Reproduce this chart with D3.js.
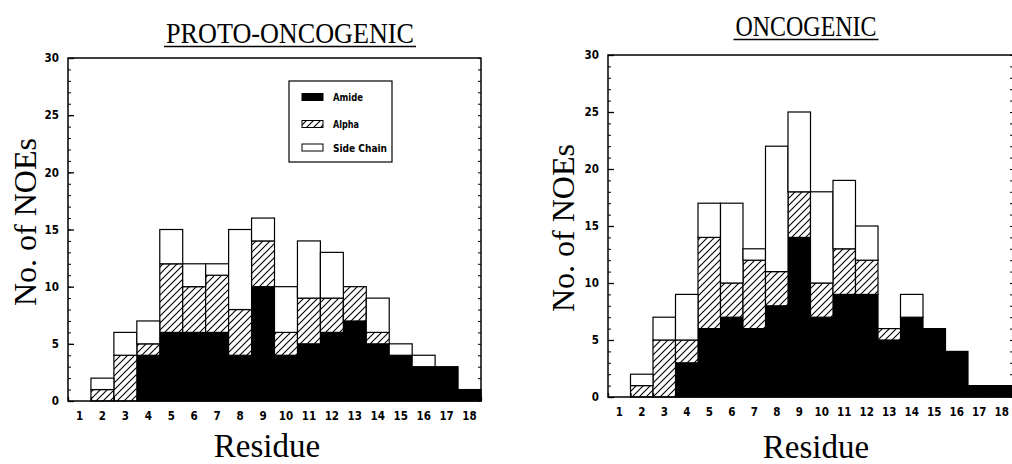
<!DOCTYPE html>
<html>
<head>
<meta charset="utf-8">
<script src="https://cdn.jsdelivr.net/npm/d3@7"></script>
<style>
  html, body { margin: 0; padding: 0; background: #fff; }
  svg { display: block; }
  .tick text { font-family: "DejaVu Sans Condensed", "DejaVu Sans", sans-serif; font-weight: bold; font-size: 11.5px; fill: #000; }
  .domain { display: none; }
</style>
</head>
<body>
<svg id="chart" width="1012" height="464"></svg>
<script>
// ---------- data ----------
const residues = d3.range(1, 19).map(String);
const seriesNames = ["Amide", "Alpha", "Side Chain"];
const yTickValues = [0, 5, 10, 15, 20, 25, 30];

const protoAmide = [0, 0, 0, 4, 6, 6, 6, 4, 10, 4, 5, 6, 7, 5, 4, 3, 3, 1];
const protoAlpha = [0, 1, 4, 1, 6, 4, 5, 4, 4, 2, 4, 3, 3, 1, 0, 0, 0, 0];
const protoSide  = [0, 1, 2, 2, 3, 2, 1, 7, 2, 4, 5, 4, 0, 3, 1, 1, 0, 0];

const oncoAmide = [0, 0, 0, 3, 6, 7, 6, 8, 14, 7, 9, 9, 5, 7, 6, 4, 1, 1];
const oncoAlpha = [0, 1, 5, 2, 8, 3, 6, 3, 4, 3, 4, 3, 1, 0, 0, 0, 0, 0];
const oncoSide  = [0, 1, 2, 4, 3, 7, 1, 11, 7, 8, 6, 3, 0, 2, 0, 0, 0, 0];

// ---------- drawing ----------
const svg = d3.select("#chart");
const defs = svg.append("defs");
const pat = defs.append("pattern")
  .attr("id", "hatch").attr("patternUnits", "userSpaceOnUse")
  .attr("width", 7).attr("height", 7);
pat.append("rect").attr("width", 7).attr("height", 7).attr("fill", "#fff");
pat.append("path")
  .attr("d", "M-1,1 l2,-2 M0,7 l7,-7 M6,8 l2,-2")
  .attr("stroke", "#000").attr("stroke-width", 1.1);

const fills = ["#000", "url(#hatch)", "#fff"];
const serif = "'Liberation Serif', 'DejaVu Serif', serif";

function panel(cfg) {
  const { amide, alpha, side, x0, x1, yBottom, yTop } = cfg;
  const rows = residues.map((r, i) => ({ res: r, "Amide": amide[i], "Alpha": alpha[i], "Side Chain": side[i] }));
  const stacked = d3.stack().keys(seriesNames)(rows);

  const x = d3.scaleBand().domain(residues).range([x0, x1]).paddingInner(0).paddingOuter(0);
  const xl = d3.scaleLinear().domain([0.5, 18.5]).range([x0, x1]);
  const y = d3.scaleLinear().domain([0, 30]).range([yBottom, yTop]);

  const g = svg.append("g");

  // bars
  stacked.forEach((layer, li) => {
    g.append("g").selectAll("rect")
      .data(layer.filter(d => d[1] > d[0]))
      .join("rect")
      .attr("x", d => x(d.data.res))
      .attr("width", x.bandwidth())
      .attr("y", d => y(d[1]))
      .attr("height", d => y(d[0]) - y(d[1]))
      .attr("fill", fills[li])
      .attr("stroke", "#000")
      .attr("stroke-width", 1.2);
  });

  // frame
  g.append("rect")
    .attr("x", x0).attr("y", yTop)
    .attr("width", x1 - x0).attr("height", yBottom - yTop)
    .attr("fill", "none").attr("stroke", "#000").attr("stroke-width", 1.5);

  // y axis: minor ticks
  g.append("g").attr("transform", `translate(${x0},0)`)
    .call(d3.axisLeft(y).tickValues(d3.range(0, 31)).tickSize(-3).tickFormat(""))
    .call(s => s.selectAll("line").attr("stroke", "#000"));
  // y axis: major ticks + labels
  g.append("g").attr("transform", `translate(${x0},0)`)
    .call(d3.axisLeft(y).tickValues(yTickValues).tickSize(-6).tickPadding(9))
    .call(s => s.selectAll("line").attr("stroke", "#000").attr("stroke-width", 1.3));
  // right side minor ticks
  g.append("g").attr("transform", `translate(${x1},0)`)
    .call(d3.axisRight(y).tickValues(d3.range(0, 31)).tickSize(-3).tickFormat(""))
    .call(s => s.selectAll("line").attr("stroke", "#000"));

  // x axis: ticks at bar boundaries
  g.append("g").attr("transform", `translate(0,${yBottom})`)
    .call(d3.axisBottom(xl).tickValues(d3.range(0.5, 19, 1)).tickSize(-4).tickFormat(""))
    .call(s => s.selectAll("line").attr("stroke", "#000").attr("stroke-width", 1.3));
  // x axis: labels at bar centres
  g.append("g").attr("transform", `translate(0,${yBottom})`)
    .call(d3.axisBottom(x).tickSize(0).tickPadding(11))
    .call(s => s.selectAll("line").remove());

  // titles
  g.append("text")
    .attr("x", cfg.titleX).attr("y", cfg.titleY)
    .attr("text-anchor", "middle")
    .attr("font-family", serif).attr("font-size", 29)
    .attr("textLength", cfg.titleLen).attr("lengthAdjust", "spacingAndGlyphs")
    .text(cfg.title);
  g.append("line")
    .attr("x1", cfg.titleX - cfg.titleLen / 2 - 2).attr("x2", cfg.titleX + cfg.titleLen / 2 + 2)
    .attr("y1", cfg.titleY + 3.5).attr("y2", cfg.titleY + 3.5)
    .attr("stroke", "#000").attr("stroke-width", 1.5);

  // y title
  g.append("text")
    .attr("transform", `translate(${cfg.yLabX},${cfg.yLabY}) rotate(-90)`)
    .attr("text-anchor", "middle")
    .attr("font-family", serif).attr("font-size", 31)
    .attr("textLength", 168).attr("lengthAdjust", "spacingAndGlyphs")
    .text("No. of NOEs");

  // x title
  g.append("text")
    .attr("x", cfg.xLabX).attr("y", cfg.xLabY)
    .attr("text-anchor", "middle")
    .attr("font-family", serif).attr("font-size", 33)
    .text("Residue");

  return g;
}

panel({
  amide: protoAmide, alpha: protoAlpha, side: protoSide,
  x0: 68, x1: 481, yBottom: 401, yTop: 58,
  title: "PROTO-ONCOGENIC", titleX: 290, titleY: 43, titleLen: 248,
  yLabX: 36, yLabY: 222, xLabX: 267, xLabY: 457
});

panel({
  amide: oncoAmide, alpha: oncoAlpha, side: oncoSide,
  x0: 608, x1: 1013, yBottom: 397, yTop: 55,
  title: "ONCOGENIC", titleX: 806, titleY: 36, titleLen: 141,
  yLabX: 574, yLabY: 228, xLabX: 816, xLabY: 458
});

// legend (left panel only)
const lg = svg.append("g");
lg.append("rect").attr("x", 289).attr("y", 81).attr("width", 103).attr("height", 81)
  .attr("fill", "#fff").attr("stroke", "#000").attr("stroke-width", 1.2);
const legY = [97, 124, 147.5];
seriesNames.forEach((name, i) => {
  lg.append("rect").attr("x", 302).attr("y", legY[i] - 3.5).attr("width", 21).attr("height", 7)
    .attr("fill", fills[i]).attr("stroke", "#000").attr("stroke-width", 1);
  lg.append("text").attr("x", 333).attr("y", legY[i] + 4)
    .attr("font-family", "'DejaVu Sans Condensed', 'DejaVu Sans', sans-serif")
    .attr("font-weight", "bold").attr("font-size", 11)
    .attr("textLength", [30, 26, 54][i]).attr("lengthAdjust", "spacingAndGlyphs")
    .text(name);
});
</script>
</body>
</html>
